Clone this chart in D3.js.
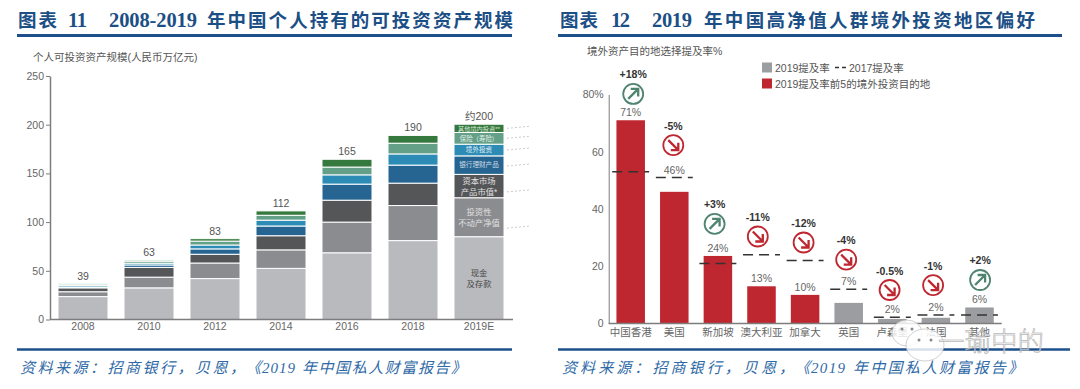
<!DOCTYPE html>
<html>
<head>
<meta charset="utf-8">
<script src="https://cdn.jsdelivr.net/npm/d3@7"></script>
<style>
  body { margin: 0; background: #fff; }
  svg { display: block; }
  text { font-family: "Liberation Sans", "Noto Sans CJK SC", sans-serif; }
  .axis path, .axis line { stroke: #7d7d7d; }
  .axis text { font-size: 10.5px; fill: #666; font-family: "Liberation Sans", "Noto Sans CJK SC", sans-serif; }
  .head { font-family: "Liberation Serif", "Noto Sans CJK SC", serif; font-weight: 700; font-size: 18.5px; fill: #1c4f85; }
  .headnum { font-family: "Liberation Serif", serif; font-weight: 700; font-size: 20.5px; fill: #1c4f85; }
  .foot { font-family: "Liberation Serif", "Noto Sans CJK SC", serif; font-style: italic; font-size: 15px; fill: #2f6aa6; }
  .note { font-size: 10.5px; fill: #555; }
</style>
</head>
<body>
<div id="chart"></div>
<script>
/* DATA : left chart */
const years = ["2008", "2010", "2012", "2014", "2016", "2018", "2019E"];
const yearTotals = ["39", "63", "83", "112", "165", "190", "约200"];
const assetKeys = ["cash", "property", "capital", "bank", "overseas", "insurance", "other"];
const cash = [23.5, 32.5, 42, 52.5, 68.5, 81, 85];
const property = [5, 11, 16, 19, 31.5, 36, 40];
const capital = [4, 10, 9, 14.5, 22.5, 23, 24];
const bank = [0.8, 2.5, 5.5, 10, 16.5, 18.5, 19];
const overseas = [1.5, 1.8, 4, 6, 9.5, 11.5, 12];
const insurance = [1.5, 2, 4, 5, 8, 11, 12];
const other = [0.5, 1.2, 2.5, 4.5, 8, 8, 8.5];
const assetTicks = [0, 50, 100, 150, 200, 250];
const assetNames = [["现金", "及存款"], ["投资性", "不动产净值"], ["资本市场", "产品市值*"], ["银行理财产品"], ["境外投资"], ["保险（寿险）"], ["其他境内投资**"]];

/* DATA : right chart */
const places = ["中国香港", "美国", "新加坡", "澳大利亚", "加拿大", "英国", "卢森堡", "法国", "其他"];
const rate2019 = [71, 46, 23.6, 13, 10, 7.2, 1.6, 2, 5.6];
const rate2017 = [53, 51, 21, 24, 22, 12, 2.2, 3, 3];
const rateLabels = ["71%", "46%", "24%", "13%", "10%", "7%", "2%", "2%", "6%"];
const changeLabels = ["+18%", "-5%", "+3%", "-11%", "-12%", "-4%", "-0.5%", "-1%", "+2%"];
const topFive = ["中国香港", "美国", "新加坡", "澳大利亚", "加拿大"];
const rateTicks = [0, 20, 40, 60, 80];

/* CONSTANTS */
const width = 1080, height = 389;
const assetColors = { cash: "#b9babe", property: "#8b8c8f", capital: "#555658", bank: "#266591", overseas: "#2c8cb5", insurance: "#64a088", other: "#36793f" };
const red = "#bf2730", gray = "#9c9da0", green = "#4f8470";

const svg = d3.select("#chart").append("svg").attr("width", width).attr("height", height);

// text squeezed or stretched between two x positions, the PDF headline has wide tracking
function spanText(str, x0, x1, y, cls) {
  svg.append("text").attr("class", cls).attr("x", x0).attr("y", y)
    .attr("textLength", x1 - x0).attr("lengthAdjust", "spacing").text(str);
}
function rule(x0, x1, y, w) {
  svg.append("line").attr("x1", x0).attr("x2", x1).attr("y1", y).attr("y2", y)
    .attr("stroke", "#1c4f8c").attr("stroke-width", w);
}

/* HEADERS AND FOOTERS */
spanText("图表", 18, 57, 27, "head");
spanText("11", 68, 87, 27, "headnum");
spanText("2008-2019", 109, 197, 27, "headnum");
spanText("年中国个人持有的可投资资产规模", 207, 513, 27, "head");
rule(17, 512, 35.5, 3);

spanText("图表", 560, 598, 27, "head");
spanText("12", 611, 630, 27, "headnum");
spanText("2019", 652, 692, 27, "headnum");
spanText("年中国高净值人群境外投资地区偏好", 704, 1035, 27, "head");
rule(558, 1062, 35.5, 3);

rule(17, 512, 349.5, 2.5);
rule(558, 1070, 349.5, 2.5);
spanText("资料来源：招商银行，贝恩，", 20, 245, 373, "foot");
spanText("《", 246, 261, 373, "foot");
spanText("2019", 262, 295, 373, "foot");
spanText("年中国私人财富报告》", 302, 466, 373, "foot");
spanText("资料来源：招商银行，贝恩，", 562, 794, 373, "foot");
spanText("《", 795, 810, 373, "foot");
spanText("2019", 811, 845, 373, "foot");
spanText("年中国私人财富报告》", 853, 1023, 373, "foot");

/* LEFT CHART */
const assetRows = years.map((year, i) => ({ year, cash: cash[i], property: property[i], capital: capital[i], bank: bank[i], overseas: overseas[i], insurance: insurance[i], other: other[i] }));
const stacked = d3.stack().keys(assetKeys)(assetRows);

const xYear = d3.scaleBand().domain(years).range([50, 512]).paddingInner(0.2424).paddingOuter(0.1212);
const yAsset = d3.scaleLinear().domain([0, 250]).range([319.5, 76]);

svg.append("text").attr("class", "note").attr("x", 33).attr("y", 61).text("个人可投资资产规模(人民币万亿元)");

svg.append("g").selectAll("g")
  .data(stacked)
  .join("g")
  .attr("fill", d => assetColors[d.key])
  .selectAll("rect")
  .data(d => d)
  .join("rect")
  .attr("x", d => xYear(d.data.year))
  .attr("width", xYear.bandwidth())
  .attr("y", d => yAsset(d[1]))
  .attr("height", d => yAsset(d[0]) - yAsset(d[1]))
  .attr("stroke", "#fff")
  .attr("stroke-width", 1);

svg.append("g").attr("class", "axis")
  .attr("transform", "translate(50,0)")
  .call(d3.axisLeft(yAsset).tickValues(assetTicks).tickSize(4).tickSizeOuter(0).tickPadding(2))
  .call(g => g.select(".domain").attr("stroke-width", 1.5));
svg.append("g").attr("class", "axis")
  .attr("transform", "translate(0,319.5)")
  .call(d3.axisBottom(xYear).tickSize(0).tickPadding(3))
  .call(g => g.select(".domain").attr("d", "M50,0H513").attr("stroke-width", 1.5));

svg.append("g").selectAll("text")
  .data(years)
  .join("text")
  .attr("x", d => xYear(d) + xYear.bandwidth() / 2)
  .attr("y", (d, i) => yAsset(d3.sum(assetKeys, k => assetRows[i][k])) - 4)
  .attr("text-anchor", "middle")
  .attr("font-size", 10.5)
  .attr("fill", "#555")
  .text((d, i) => yearTotals[i]);

// names written inside the 2019E column, plus the dotted leaders going right
const lastX = xYear("2019E") + xYear.bandwidth() / 2;
const nameSize = [8.3, 8.3, 8.3, 6.6, 6.6, 6.4, 6.2];
const nameFill = ["#444", "#e0e0e0", "#e0e0e0", "#cfdbe5", "#e3eef4", "#e3efe9", "#d9e8da"];
const leaderAt = [null, 0.22, 0.25, 0.45, 0.5, 0.5, 0.5];

stacked.forEach((layer, k) => {
  const d = layer[layer.length - 1];
  const mid = (yAsset(d[0]) + yAsset(d[1])) / 2;
  const lines = assetNames[k];
  lines.forEach((str, j) => {
    svg.append("text")
      .attr("x", lastX)
      .attr("y", mid + (j - (lines.length - 1) / 2) * 11 + nameSize[k] * 0.36)
      .attr("text-anchor", "middle")
      .attr("font-size", nameSize[k])
      .attr("fill", nameFill[k])
      .text(str);
  });
  if (leaderAt[k] !== null) {
    const ly = yAsset(d[0] + (d[1] - d[0]) * leaderAt[k]);
    svg.append("line")
      .attr("x1", 507).attr("x2", 529).attr("y1", ly).attr("y2", ly - 2)
      .attr("stroke", "#bdbdbd").attr("stroke-width", 0.8).attr("stroke-dasharray", "2 2");
  }
});

/* RIGHT CHART */
const xPlace = d3.scaleBand().domain(places).range([608.9, 1001.3]).paddingInner(0.346).paddingOuter(0.173);
const yRate = d3.scaleLinear().domain([0, 80]).range([323.5, 94.5]);

svg.append("text").attr("class", "note").attr("x", 587).attr("y", 55).text("境外资产目的地选择提及率%");

// legend
svg.append("rect").attr("x", 762).attr("y", 62.5).attr("width", 10).attr("height", 10).attr("fill", gray);
svg.append("text").attr("class", "note").attr("x", 775).attr("y", 71.5).text("2019提及率");
svg.append("line").attr("x1", 835).attr("x2", 846).attr("y1", 67.5).attr("y2", 67.5)
  .attr("stroke", "#333").attr("stroke-width", 1.3).attr("stroke-dasharray", "4 3");
svg.append("text").attr("class", "note").attr("x", 849).attr("y", 71.5).text("2017提及率");
svg.append("rect").attr("x", 762).attr("y", 78.5).attr("width", 10).attr("height", 10).attr("fill", red);
svg.append("text").attr("class", "note").attr("x", 775).attr("y", 87.5).text("2019提及率前5的境外投资目的地");

svg.append("g").selectAll("rect")
  .data(places)
  .join("rect")
  .attr("x", d => xPlace(d))
  .attr("width", xPlace.bandwidth())
  .attr("y", (d, i) => yRate(rate2019[i]))
  .attr("height", (d, i) => yRate(0) - yRate(rate2019[i]))
  .attr("fill", d => topFive.includes(d) ? red : gray);

svg.append("g").attr("class", "axis")
  .attr("transform", "translate(608.7,0)")
  .call(d3.axisLeft(yRate).tickValues(rateTicks).tickSize(0).tickPadding(5).tickFormat(d => d === 80 ? "80%" : d))
  .call(g => g.select(".domain").attr("stroke-width", 1));
svg.append("g").attr("class", "axis")
  .attr("transform", "translate(0,323.5)")
  .call(d3.axisBottom(xPlace).tickSize(0).tickPadding(5))
  .call(g => g.select(".domain").attr("d", "M608.7,0H1001.7").attr("stroke", "#aaa").attr("stroke-width", 1.5));

// 2017 dashes, a little wider than the bars
svg.append("g").selectAll("line")
  .data(places)
  .join("line")
  .attr("x1", d => xPlace(d) - 4.2)
  .attr("x2", d => xPlace(d) + xPlace.bandwidth() + 4.2)
  .attr("y1", (d, i) => yRate(rate2017[i]))
  .attr("y2", (d, i) => yRate(rate2017[i]))
  .attr("stroke", "#333")
  .attr("stroke-width", 1.5)
  .attr("stroke-dasharray", "10 6");

// value label sits on the bar, or on the dash when the dash is only just above it
svg.append("g").selectAll("text")
  .data(places)
  .join("text")
  .attr("x", d => xPlace(d) + xPlace.bandwidth() / 2)
  .attr("y", (d, i) => {
    const gap = rate2017[i] - rate2019[i];
    const level = gap > 0 && gap < 8 ? rate2017[i] : rate2019[i];
    return yRate(level) - 4;
  })
  .attr("text-anchor", "middle")
  .attr("font-size", 10.5)
  .attr("fill", "#666")
  .text((d, i) => rateLabels[i]);

// badges : height read in chart units, sideways nudge by eye
const badgeLevels = [80.2, 62.3, 34.8, 30.4, 28.3, 22.3, 11.7, 13.4, 15.2];
const badgeNudge = [2.5, -1, -3.3, -3.7, -1.5, -2.5, -2.7, -2.8, 0.6];

const badges = svg.append("g").selectAll("g")
  .data(places)
  .join("g")
  .attr("transform", (d, i) => `translate(${xPlace(d) + xPlace.bandwidth() / 2 + badgeNudge[i]},${yRate(badgeLevels[i])})`);

badges.append("circle")
  .attr("r", 10)
  .attr("fill", "#fff")
  .attr("stroke", (d, i) => changeLabels[i][0] === "+" ? green : red)
  .attr("stroke-width", 1.8);
badges.append("path")
  .attr("d", "M-5,5L4,-4M-2.5,-5H5V2.5")
  .attr("fill", "none")
  .attr("stroke", (d, i) => changeLabels[i][0] === "+" ? green : red)
  .attr("stroke-width", 2.3)
  .attr("transform", (d, i) => changeLabels[i][0] === "+" ? null : "rotate(90)");
badges.append("text")
  .attr("y", -15.5)
  .attr("text-anchor", "middle")
  .attr("font-size", 10.5)
  .attr("font-weight", 700)
  .attr("fill", "#333")
  .text((d, i) => changeLabels[i]);

/* WATERMARK */
const mark = svg.append("g");
[[907, 333, 15, 13], [925, 345, 19, 16]].forEach(b => {
  mark.append("ellipse").attr("cx", b[0]).attr("cy", b[1]).attr("rx", b[2]).attr("ry", b[3])
    .attr("fill", "#fff").attr("fill-opacity", 0.82).attr("stroke", "#bbb").attr("stroke-width", 0.7);
});
[[902, 329], [912, 329], [919, 340], [931, 340]].forEach(p => {
  mark.append("circle").attr("cx", p[0]).attr("cy", p[1]).attr("r", 1.5).attr("fill", "#888");
});
mark.append("text")
  .attr("x", 938).attr("y", 351)
  .attr("font-size", 26.5)
  .attr("font-weight", 300)
  .attr("fill", "#fff")
  .attr("fill-opacity", 0.65)
  .attr("stroke", "#999")
  .attr("stroke-width", 0.5)
  .text("一瑜中的");
</script>
</body>
</html>
